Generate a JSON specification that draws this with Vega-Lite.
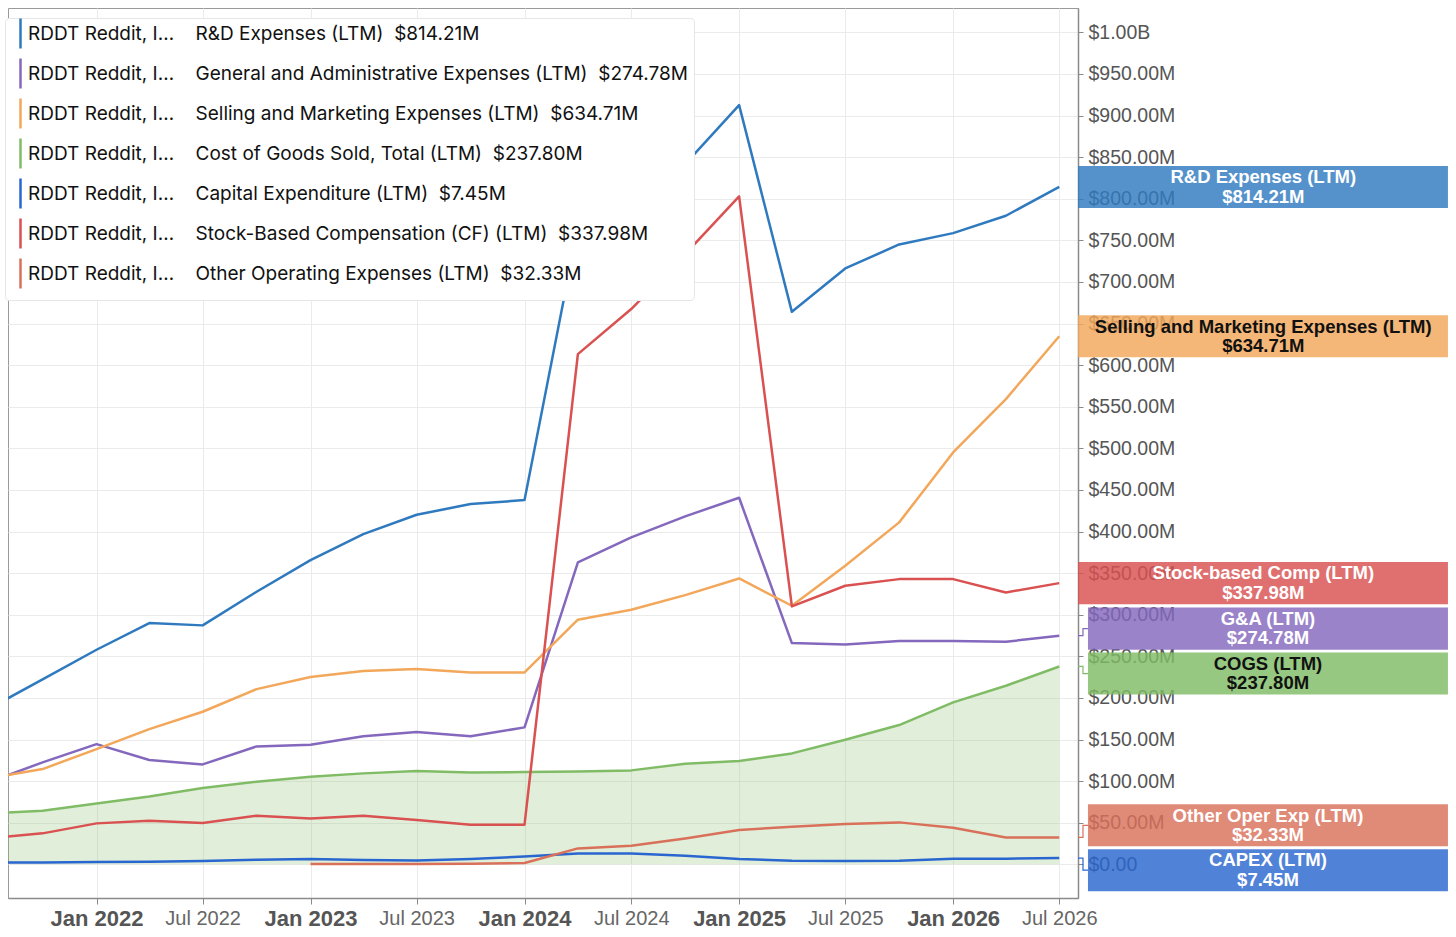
{
  "$schema": "https://vega.github.io/schema/vega-lite/v6.json",
  "width": 1070,
  "height": 890,
  "autosize": {"type": "none"},
  "padding": {"left": 8, "top": 8, "right": 378, "bottom": 39},
  "background": "#ffffff",
  "config": {
    "font": "Liberation Sans",
    "view": {"stroke": "#9a9a9a", "strokeWidth": 1},
    "axis": {"title": null, "gridColor": "#ebebeb", "gridWidth": 1, "domainColor": "#8a8a8a", "domainWidth": 1.5, "tickColor": "#8a8a8a"}
  },
  "datasets": {
    "series": [
      {"date": "2021-07-01", "series": "RD", "value": 186.9},
      {"date": "2021-10-01", "series": "RD", "value": 222.4},
      {"date": "2022-01-01", "series": "RD", "value": 257.9},
      {"date": "2022-04-01", "series": "RD", "value": 290.0},
      {"date": "2022-07-01", "series": "RD", "value": 287.2},
      {"date": "2022-10-01", "series": "RD", "value": 327.6},
      {"date": "2023-01-01", "series": "RD", "value": 365.7},
      {"date": "2023-04-01", "series": "RD", "value": 396.9},
      {"date": "2023-07-01", "series": "RD", "value": 420.2},
      {"date": "2023-10-01", "series": "RD", "value": 433.0},
      {"date": "2024-01-01", "series": "RD", "value": 437.8},
      {"date": "2024-04-01", "series": "RD", "value": 765.5},
      {"date": "2024-07-01", "series": "RD", "value": 788.4},
      {"date": "2024-10-01", "series": "RD", "value": 841.6},
      {"date": "2025-01-01", "series": "RD", "value": 912.6},
      {"date": "2025-04-01", "series": "RD", "value": 664.1},
      {"date": "2025-07-01", "series": "RD", "value": 716.2},
      {"date": "2025-10-01", "series": "RD", "value": 745.1},
      {"date": "2026-01-01", "series": "RD", "value": 758.7},
      {"date": "2026-04-01", "series": "RD", "value": 779.6},
      {"date": "2026-07-01", "series": "RD", "value": 814.21},
      {"date": "2021-07-01", "series": "GA", "value": 98.6},
      {"date": "2021-10-01", "series": "GA", "value": 122.5},
      {"date": "2022-01-01", "series": "GA", "value": 144.5},
      {"date": "2022-04-01", "series": "GA", "value": 125.3},
      {"date": "2022-07-01", "series": "GA", "value": 120.1},
      {"date": "2022-10-01", "series": "GA", "value": 141.7},
      {"date": "2023-01-01", "series": "GA", "value": 143.7},
      {"date": "2023-04-01", "series": "GA", "value": 153.8},
      {"date": "2023-07-01", "series": "GA", "value": 159.0},
      {"date": "2023-10-01", "series": "GA", "value": 153.8},
      {"date": "2024-01-01", "series": "GA", "value": 164.6},
      {"date": "2024-04-01", "series": "GA", "value": 362.9},
      {"date": "2024-07-01", "series": "GA", "value": 393.0},
      {"date": "2024-10-01", "series": "GA", "value": 418.2},
      {"date": "2025-01-01", "series": "GA", "value": 440.6},
      {"date": "2025-04-01", "series": "GA", "value": 265.9},
      {"date": "2025-07-01", "series": "GA", "value": 264.3},
      {"date": "2025-10-01", "series": "GA", "value": 268.3},
      {"date": "2026-01-01", "series": "GA", "value": 268.3},
      {"date": "2026-04-01", "series": "GA", "value": 267.5},
      {"date": "2026-07-01", "series": "GA", "value": 274.78},
      {"date": "2021-07-01", "series": "SM", "value": 103.2},
      {"date": "2021-10-01", "series": "SM", "value": 114.5},
      {"date": "2022-01-01", "series": "SM", "value": 138.5},
      {"date": "2022-04-01", "series": "SM", "value": 162.5},
      {"date": "2022-07-01", "series": "SM", "value": 183.4},
      {"date": "2022-10-01", "series": "SM", "value": 210.6},
      {"date": "2023-01-01", "series": "SM", "value": 225.1},
      {"date": "2023-04-01", "series": "SM", "value": 232.3},
      {"date": "2023-07-01", "series": "SM", "value": 234.7},
      {"date": "2023-10-01", "series": "SM", "value": 230.7},
      {"date": "2024-01-01", "series": "SM", "value": 230.7},
      {"date": "2024-04-01", "series": "SM", "value": 294.0},
      {"date": "2024-07-01", "series": "SM", "value": 306.0},
      {"date": "2024-10-01", "series": "SM", "value": 323.6},
      {"date": "2025-01-01", "series": "SM", "value": 343.6},
      {"date": "2025-04-01", "series": "SM", "value": 310.8},
      {"date": "2025-07-01", "series": "SM", "value": 358.9},
      {"date": "2025-10-01", "series": "SM", "value": 411.0},
      {"date": "2026-01-01", "series": "SM", "value": 495.1},
      {"date": "2026-04-01", "series": "SM", "value": 559.2},
      {"date": "2026-07-01", "series": "SM", "value": 634.71},
      {"date": "2021-07-01", "series": "COGS", "value": 61.3},
      {"date": "2021-10-01", "series": "COGS", "value": 64.4},
      {"date": "2022-01-01", "series": "COGS", "value": 73.2},
      {"date": "2022-04-01", "series": "COGS", "value": 81.6},
      {"date": "2022-07-01", "series": "COGS", "value": 91.6},
      {"date": "2022-10-01", "series": "COGS", "value": 99.3},
      {"date": "2023-01-01", "series": "COGS", "value": 105.3},
      {"date": "2023-04-01", "series": "COGS", "value": 109.3},
      {"date": "2023-07-01", "series": "COGS", "value": 112.1},
      {"date": "2023-10-01", "series": "COGS", "value": 110.5},
      {"date": "2024-01-01", "series": "COGS", "value": 110.9},
      {"date": "2024-04-01", "series": "COGS", "value": 111.7},
      {"date": "2024-07-01", "series": "COGS", "value": 112.9},
      {"date": "2024-10-01", "series": "COGS", "value": 121.0},
      {"date": "2025-01-01", "series": "COGS", "value": 124.1},
      {"date": "2025-04-01", "series": "COGS", "value": 133.3},
      {"date": "2025-07-01", "series": "COGS", "value": 149.7},
      {"date": "2025-10-01", "series": "COGS", "value": 167.4},
      {"date": "2026-01-01", "series": "COGS", "value": 194.6},
      {"date": "2026-04-01", "series": "COGS", "value": 214.6},
      {"date": "2026-07-01", "series": "COGS", "value": 237.80},
      {"date": "2021-07-01", "series": "CAPEX", "value": 2.3},
      {"date": "2021-10-01", "series": "CAPEX", "value": 2.3},
      {"date": "2022-01-01", "series": "CAPEX", "value": 2.7},
      {"date": "2022-04-01", "series": "CAPEX", "value": 3.1},
      {"date": "2022-07-01", "series": "CAPEX", "value": 3.9},
      {"date": "2022-10-01", "series": "CAPEX", "value": 5.5},
      {"date": "2023-01-01", "series": "CAPEX", "value": 6.3},
      {"date": "2023-04-01", "series": "CAPEX", "value": 5.1},
      {"date": "2023-07-01", "series": "CAPEX", "value": 4.7},
      {"date": "2023-10-01", "series": "CAPEX", "value": 6.3},
      {"date": "2024-01-01", "series": "CAPEX", "value": 9.3},
      {"date": "2024-04-01", "series": "CAPEX", "value": 13.1},
      {"date": "2024-07-01", "series": "CAPEX", "value": 13.1},
      {"date": "2024-10-01", "series": "CAPEX", "value": 10.3},
      {"date": "2025-01-01", "series": "CAPEX", "value": 6.3},
      {"date": "2025-04-01", "series": "CAPEX", "value": 4.3},
      {"date": "2025-07-01", "series": "CAPEX", "value": 3.9},
      {"date": "2025-10-01", "series": "CAPEX", "value": 4.3},
      {"date": "2026-01-01", "series": "CAPEX", "value": 6.7},
      {"date": "2026-04-01", "series": "CAPEX", "value": 6.7},
      {"date": "2026-07-01", "series": "CAPEX", "value": 7.45},
      {"date": "2021-07-01", "series": "SBC", "value": 31.5},
      {"date": "2021-10-01", "series": "SBC", "value": 37.2},
      {"date": "2022-01-01", "series": "SBC", "value": 49.2},
      {"date": "2022-04-01", "series": "SBC", "value": 52.4},
      {"date": "2022-07-01", "series": "SBC", "value": 49.6},
      {"date": "2022-10-01", "series": "SBC", "value": 58.4},
      {"date": "2023-01-01", "series": "SBC", "value": 55.2},
      {"date": "2023-04-01", "series": "SBC", "value": 58.4},
      {"date": "2023-07-01", "series": "SBC", "value": 53.2},
      {"date": "2023-10-01", "series": "SBC", "value": 47.6},
      {"date": "2024-01-01", "series": "SBC", "value": 47.6},
      {"date": "2024-04-01", "series": "SBC", "value": 613.3},
      {"date": "2024-07-01", "series": "SBC", "value": 667.4},
      {"date": "2024-10-01", "series": "SBC", "value": 733.5},
      {"date": "2025-01-01", "series": "SBC", "value": 802.8},
      {"date": "2025-04-01", "series": "SBC", "value": 310.0},
      {"date": "2025-07-01", "series": "SBC", "value": 334.8},
      {"date": "2025-10-01", "series": "SBC", "value": 342.8},
      {"date": "2026-01-01", "series": "SBC", "value": 342.8},
      {"date": "2026-04-01", "series": "SBC", "value": 326.8},
      {"date": "2026-07-01", "series": "SBC", "value": 337.98},
      {"date": "2023-01-01", "series": "OTHER", "value": 0.3},
      {"date": "2023-04-01", "series": "OTHER", "value": 0.3},
      {"date": "2023-07-01", "series": "OTHER", "value": 0.5},
      {"date": "2023-10-01", "series": "OTHER", "value": 0.8},
      {"date": "2024-01-01", "series": "OTHER", "value": 1.5},
      {"date": "2024-04-01", "series": "OTHER", "value": 19.1},
      {"date": "2024-07-01", "series": "OTHER", "value": 22.3},
      {"date": "2024-10-01", "series": "OTHER", "value": 31.1},
      {"date": "2025-01-01", "series": "OTHER", "value": 41.2},
      {"date": "2025-04-01", "series": "OTHER", "value": 45.2},
      {"date": "2025-07-01", "series": "OTHER", "value": 48.4},
      {"date": "2025-10-01", "series": "OTHER", "value": 50.4},
      {"date": "2026-01-01", "series": "OTHER", "value": 44.0},
      {"date": "2026-04-01", "series": "OTHER", "value": 32.3},
      {"date": "2026-07-01", "series": "OTHER", "value": 32.33}
    ],
    "tags": [
      {"series": "RD", "tag": "R&D Expenses (LTM)", "last": 814.21},
      {"series": "SM", "tag": "Selling and Marketing Expenses (LTM)", "last": 634.71},
      {"series": "SBC", "tag": "Stock-based Comp (LTM)", "last": 337.98},
      {"series": "GA", "tag": "G&A (LTM)", "last": 274.78},
      {"series": "COGS", "tag": "COGS (LTM)", "last": 237.80},
      {"series": "OTHER", "tag": "Other Oper Exp (LTM)", "last": 32.33},
      {"series": "CAPEX", "tag": "CAPEX (LTM)", "last": 7.45}
    ]
  },
  "layer": [
    {
      "data": {"name": "series"},
      "transform": [{"filter": "datum.series == 'COGS'"}],
      "mark": {"type": "area", "clip": true, "color": "#80bc65", "opacity": 0.24},
      "encoding": {
        "x": {"field": "date", "type": "temporal", "scale": {"domain": [{"year": 2021, "month": 8, "date": 3}, {"year": 2026, "month": 8, "date": 2}]}},
        "y": {"field": "value", "type": "quantitative", "scale": {"domain": [-40.5, 1029.3]}},
        "y2": {"datum": 0}
      }
    },
    {
      "data": {"name": "series"},
      "mark": {"type": "line", "clip": true, "strokeJoin": "round"},
      "encoding": {
        "x": {
          "field": "date", "type": "temporal",
          "scale": {"domain": [{"year": 2021, "month": 8, "date": 3}, {"year": 2026, "month": 8, "date": 2}]},
          "axis": {
            "orient": "bottom",
            "tickCount": {"interval": "month", "step": 6},
            "format": "%b %Y",
            "tickSize": 6,
            "labelPadding": 4,
            "labelFlush": false,
            "labelOverlap": false,
            "labelFont": "Liberation Sans",
            "labelFontSize": {"condition": {"test": "month(datum.value) == 0", "value": 22}, "value": 20},
            "labelFontWeight": {"condition": {"test": "month(datum.value) == 0", "value": "bold"}, "value": "normal"},
            "labelColor": {"condition": {"test": "month(datum.value) == 0", "value": "#555555"}, "value": "#666666"}
          }
        },
        "y": {
          "field": "value", "type": "quantitative",
          "scale": {"domain": [-40.5, 1029.3]},
          "axis": {
            "orient": "right",
            "values": [0, 50, 100, 150, 200, 250, 300, 350, 400, 450, 500, 550, 600, 650, 700, 750, 800, 850, 900, 950, 1000],
            "labelExpr": "datum.value >= 1000 ? '$' + format(datum.value / 1000, '.2f') + 'B' : datum.value == 0 ? '$0.00' : '$' + format(datum.value, '.2f') + 'M'",
            "tickSize": 5,
            "labelPadding": 5,
            "labelFont": "Liberation Sans",
            "labelFontSize": 19.5,
            "labelColor": "#555555"
          }
        },
        "color": {
          "field": "series", "type": "nominal",
          "scale": {
            "domain": ["RD", "GA", "SM", "COGS", "CAPEX", "SBC", "OTHER"],
            "range": ["#2f7abf", "#8468bd", "#f2a75a", "#80bc65", "#2a66cf", "#d95151", "#d9705a"]
          },
          "legend": {
            "title": null,
            "orient": "none",
            "legendX": -3,
            "legendY": 10,
            "padding": 6,
            "symbolType": "M0,-3V3",
            "symbolSize": 100,
            "symbolStrokeWidth": 3,
            "labelOffset": -2,
            "rowPadding": -1,
            "labelLimit": 900,
            "labelFont": "Inter",
            "labelFontSize": 19,
            "labelColor": "#111111",
            "fillColor": "#ffffff",
            "strokeColor": "#e6e6e6",
            "cornerRadius": 4,
            "labelExpr": "'RDDT\u00a0Reddit, I…\u00a0\u00a0\u00a0\u00a0' + (datum.label == 'RD' ? 'R&D Expenses (LTM)\u00a0\u00a0$814.21M' : datum.label == 'GA' ? 'General and Administrative Expenses (LTM)\u00a0\u00a0$274.78M' : datum.label == 'SM' ? 'Selling and Marketing Expenses (LTM)\u00a0\u00a0$634.71M' : datum.label == 'COGS' ? 'Cost of Goods Sold, Total (LTM)\u00a0\u00a0$237.80M' : datum.label == 'CAPEX' ? 'Capital Expenditure (LTM)\u00a0\u00a0$7.45M' : datum.label == 'SBC' ? 'Stock-Based Compensation (CF) (LTM)\u00a0\u00a0$337.98M' : 'Other Operating Expenses (LTM)\u00a0\u00a0$32.33M')"
          }
        },
        "strokeWidth": {
          "field": "series", "type": "nominal",
          "scale": {"domain": ["RD", "GA", "SM", "COGS", "CAPEX", "SBC", "OTHER"], "range": [2.5, 2.5, 2.5, 2.5, 3.5, 2.5, 1.5]},
          "legend": null
        }
      }
    },
    {
      "data": {"name": "tags"},
      "transform": [
        {"window": [{"op": "lag", "field": "last", "as": "above"}, {"op": "lead", "field": "last", "as": "below"}], "sort": [{"field": "last", "order": "descending"}]},
        {"calculate": "datum.last + (isValid(datum.below) ? max(0, 54 - datum.last + datum.below) / 2 : 0) - (isValid(datum.above) ? max(0, 54 - datum.above + datum.last) / 2 : 0)", "as": "tagPos"},
        {"calculate": "abs(datum.tagPos - datum.last) > 0.01", "as": "moved"},
        {"filter": "datum.moved"},
        {"fold": ["last", "tagPos"], "as": ["end", "yy"]},
        {"calculate": "datum.end == 'last' ? datetime(2026, 7, 2) : datetime(2026, 7, 19)", "as": "xx"}
      ],
      "mark": {"type": "line", "interpolate": "step", "strokeWidth": 1.2},
      "encoding": {
        "x": {"field": "xx", "type": "temporal", "scale": {"domain": [{"year": 2021, "month": 8, "date": 3}, {"year": 2026, "month": 8, "date": 2}]}},
        "y": {"field": "yy", "type": "quantitative", "scale": {"domain": [-40.5, 1029.3]}},
        "stroke": {
          "field": "series", "type": "nominal",
          "scale": {"domain": ["RD", "GA", "SM", "COGS", "CAPEX", "SBC", "OTHER"], "range": ["#2f7abf", "#8468bd", "#f2a75a", "#80bc65", "#2a66cf", "#d95151", "#d9705a"]},
          "legend": null
        }
      }
    },
    {
      "data": {"name": "tags"},
      "transform": [
        {"window": [{"op": "lag", "field": "last", "as": "above"}, {"op": "lead", "field": "last", "as": "below"}], "sort": [{"field": "last", "order": "descending"}]},
        {"calculate": "datum.last + (isValid(datum.below) ? max(0, 54 - datum.last + datum.below) / 2 : 0) - (isValid(datum.above) ? max(0, 54 - datum.above + datum.last) / 2 : 0)", "as": "tagPos"},
        {"calculate": "abs(datum.tagPos - datum.last) > 0.01", "as": "moved"},
        {"calculate": "datum.tagPos - 25.25", "as": "lo"},
        {"calculate": "datum.tagPos + 25.25", "as": "hi"},
        {"calculate": "datum.moved ? datetime(2026, 7, 19) : datetime(2026, 7, 2)", "as": "x0"},
        {"calculate": "datetime(2028, 3, 24)", "as": "x1"}
      ],
      "mark": {"type": "rect", "fillOpacity": 0.82},
      "encoding": {
        "x": {"field": "x0", "type": "temporal", "scale": {"domain": [{"year": 2021, "month": 8, "date": 3}, {"year": 2026, "month": 8, "date": 2}]}},
        "x2": {"field": "x1"},
        "y": {"field": "lo", "type": "quantitative", "scale": {"domain": [-40.5, 1029.3]}},
        "y2": {"field": "hi"},
        "fill": {
          "field": "series", "type": "nominal",
          "scale": {"domain": ["RD", "GA", "SM", "COGS", "CAPEX", "SBC", "OTHER"], "range": ["#2f7abf", "#8468bd", "#f2a75a", "#80bc65", "#2a66cf", "#d95151", "#d9705a"]},
          "legend": null
        }
      }
    },
    {
      "data": {"name": "tags"},
      "transform": [
        {"window": [{"op": "lag", "field": "last", "as": "above"}, {"op": "lead", "field": "last", "as": "below"}], "sort": [{"field": "last", "order": "descending"}]},
        {"calculate": "datum.last + (isValid(datum.below) ? max(0, 54 - datum.last + datum.below) / 2 : 0) - (isValid(datum.above) ? max(0, 54 - datum.above + datum.last) / 2 : 0)", "as": "tagPos"},
        {"calculate": "abs(datum.tagPos - datum.last) > 0.01", "as": "moved"},
        {"calculate": "datum.moved ? datetime(2027, 5, 22) : datetime(2027, 5, 14)", "as": "xt"},
        {"calculate": "datum.tag + '\\n$' + format(datum.last, '.2f') + 'M'", "as": "label"}
      ],
      "mark": {"type": "text", "font": "Liberation Sans", "fontWeight": "bold", "fontSize": 18.5, "lineHeight": 19.5, "align": "center", "baseline": "middle", "dy": -9.75, "lineBreak": "\n"},
      "encoding": {
        "x": {"field": "xt", "type": "temporal", "scale": {"domain": [{"year": 2021, "month": 8, "date": 3}, {"year": 2026, "month": 8, "date": 2}]}},
        "y": {"field": "tagPos", "type": "quantitative", "scale": {"domain": [-40.5, 1029.3]}},
        "text": {"field": "label", "type": "nominal"},
        "color": {"condition": {"test": "datum.series == 'SM' || datum.series == 'COGS'", "value": "#111111"}, "value": "#ffffff"}
      }
    }
  ]
}
